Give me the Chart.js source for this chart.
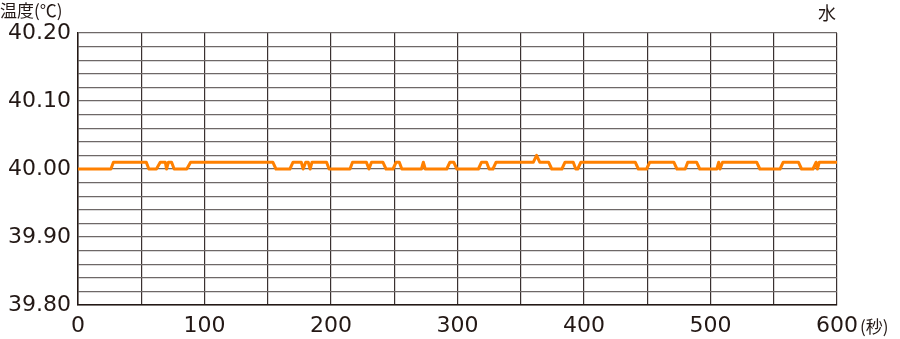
<!DOCTYPE html>
<html>
<head>
<meta charset="utf-8">
<script src="https://cdn.jsdelivr.net/npm/chart.js@4/dist/chart.umd.min.js"></script>
<style>
  html, body { margin: 0; padding: 0; background: #fff; }
  #wrap { position: relative; width: 900px; height: 339px; }
</style>
</head>
<body>
<div id="wrap"><canvas id="tempChart" width="900" height="339"></canvas></div>
<script>
// Elapsed time (s) and water temperature (°C)
const seconds = [0, 26, 28, 54, 56, 62, 65, 69, 70, 71.5, 74, 76, 86, 89, 154, 156.5, 167.5, 170, 176.5, 178,
  180, 182, 183.5, 185, 196.5, 198.5, 215, 217, 228, 230, 232, 241, 243.5, 249, 251.5, 254, 256, 271.5, 273, 274.5,
  291.5, 294, 297, 299.5, 316.5, 319, 323, 325, 328, 330.5, 360, 362.5, 365, 372, 374.5, 382.5, 385, 391.5, 393.5, 395,
  397.5, 440.5, 443, 449.5, 452, 471, 473.5, 480, 482, 489, 491.5, 505, 506.5, 507.5, 509.5, 536.5, 539, 555, 557.5, 569.5,
  572, 581, 583.5, 584.5, 586, 600];
const tempC = [40.00, 40.00, 40.01, 40.01, 40.00, 40.00, 40.01, 40.01, 40.00, 40.01, 40.01, 40.00, 40.00, 40.01, 40.01, 40.00, 40.00, 40.01, 40.01, 40.00,
  40.01, 40.01, 40.00, 40.01, 40.01, 40.00, 40.00, 40.01, 40.01, 40.00, 40.01, 40.01, 40.00, 40.00, 40.01, 40.01, 40.00, 40.00, 40.01, 40.00,
  40.00, 40.01, 40.01, 40.00, 40.00, 40.01, 40.01, 40.00, 40.00, 40.01, 40.01, 40.02, 40.01, 40.01, 40.00, 40.00, 40.01, 40.01, 40.00, 40.00,
  40.01, 40.01, 40.00, 40.00, 40.01, 40.01, 40.00, 40.00, 40.01, 40.01, 40.00, 40.00, 40.01, 40.00, 40.01, 40.01, 40.00, 40.00, 40.01, 40.01,
  40.00, 40.00, 40.01, 40.00, 40.01, 40.01];

const yMin = 39.80, yMax = 40.20, yStep = 0.02;
const xMin = 0, xMax = 600, xStep = 50;

const tickFont = { family: 'DejaVu Sans', size: 22 };

// extra labels: axis unit texts and sample name
const labelsPlugin = {
  id: 'labels',
  afterDraw(chart) {
    const ctx = chart.ctx;
    ctx.save();
    ctx.fillStyle = '#231815';
    ctx.textBaseline = 'middle';
    ctx.font = '17px "Noto Sans CJK JP"';
    ctx.textAlign = 'left';
    ctx.fillText('温度(℃)', 0, 11);
    ctx.font = '18px "Noto Sans CJK JP"';
    ctx.textAlign = 'center';
    ctx.fillText('水', 827, 13);
    ctx.font = '17px "Noto Sans CJK JP"';
    ctx.textAlign = 'left';
    ctx.fillText('(秒)', 860, 327);
    ctx.restore();
  }
};

new Chart(document.getElementById('tempChart'), {
  type: 'line',
  data: {
    datasets: [{
      data: seconds.map((s, i) => ({ x: s, y: tempC[i] })),
      borderColor: '#ff8000',
      borderWidth: 3,
      borderJoinStyle: 'round',
      borderCapStyle: 'round',
      pointRadius: 0,
      tension: 0,
      fill: false
    }]
  },
  options: {
    responsive: false,
    animation: false,
    layout: { padding: { top: 33, right: 63, left: 0, bottom: 0 } },
    plugins: { legend: { display: false }, tooltip: { enabled: false } },
    scales: {
      x: {
        type: 'linear',
        min: xMin, max: xMax,
        afterFit: s => { s.height = 34; },
        ticks: {
          stepSize: xStep,
          autoSkip: false,
          maxRotation: 0,
          padding: 8,
          color: '#231815',
          font: tickFont,
          callback: v => (v % 100 === 0 ? String(v) : '')
        },
        grid: { color: '#3a3130', lineWidth: 1.2, drawTicks: false },
        border: { color: '#231815', width: 1.5 }
      },
      y: {
        min: yMin, max: yMax,
        afterFit: s => { s.width = 78; },
        ticks: {
          stepSize: yStep,
          autoSkip: false,
          padding: 7,
          color: '#231815',
          font: tickFont,
          callback: v => (Math.round(v * 100) % 10 === 0 ? v.toFixed(2) : '')
        },
        grid: { color: '#6e6867', lineWidth: 1.2, drawTicks: false },
        border: { color: '#231815', width: 1.5 }
      }
    }
  },
  plugins: [labelsPlugin]
});
</script>
</body>
</html>
